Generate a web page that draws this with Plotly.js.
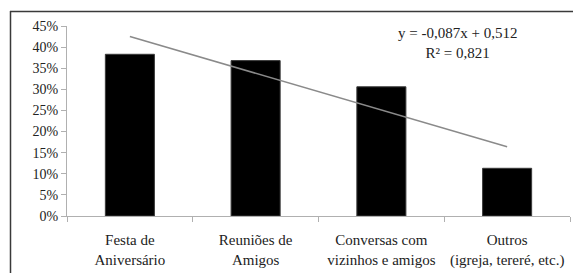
<!DOCTYPE html>
<html>
<head>
<meta charset="utf-8">
<script src="https://cdn.plot.ly/plotly-3.0.1.min.js"></script>
<style>html,body{margin:0;padding:0;background:#fff;}#chart{width:573px;height:273px;}</style>
</head>
<body>
<div id="chart"></div>
<script>
var categories = ["Festa de<br>Aniversário", "Reuniões de<br>Amigos", "Conversas com<br>vizinhos e amigos", "Outros<br>(igreja, tereré, etc.)"];
var values = [0.383, 0.368, 0.306, 0.113];
var trendSlope = -0.087;
var trendIntercept = 0.512;
var equationLines = ["y = -0,087x + 0,512", "R² = 0,821"];

var trendY = categories.map(function (c, i) { return trendSlope * (i + 1) + trendIntercept; });

var W = 573, H = 273;
var margin = {l: 67, r: 3, t: 26, b: 57};
var pw = W - margin.l - margin.r, ph = H - margin.t - margin.b;
function px2x(p) { return (p - margin.l) / pw; }
function px2y(p) { return (H - margin.b - p) / ph; }

var font = "Liberation Serif";

var data = [
  {
    type: "bar",
    x: categories,
    y: values,
    marker: {color: "#000000", line: {color: "#3a3a3a", width: 1}},
    width: 0.39,
    hoverinfo: "none"
  },
  {
    type: "scatter",
    mode: "lines",
    x: categories,
    y: trendY,
    line: {color: "#8a8a8a", width: 1.5},
    hoverinfo: "none"
  }
];

var layout = {
  width: W, height: H,
  margin: margin,
  paper_bgcolor: "#ffffff",
  plot_bgcolor: "#ffffff",
  showlegend: false,
  font: {family: font, color: "#222222", size: 14},
  xaxis: {
    type: "category",
    tickson: "boundaries",
    ticks: "outside",
    ticklen: 5,
    tickcolor: "#b0b0b0",
    showline: true,
    linecolor: "#b0b0b0",
    linewidth: 1,
    showgrid: false,
    zeroline: false,
    ticklabelstandoff: 10,
    tickfont: {family: font, size: 15, color: "#222222"},
    range: [-0.5, 3.5]
  },
  yaxis: {
    range: [0, 0.45],
    dtick: 0.05,
    tickformat: ".0%",
    ticks: "outside",
    ticklen: 5,
    tickcolor: "#b0b0b0",
    showline: true,
    linecolor: "#b0b0b0",
    linewidth: 1,
    showgrid: false,
    zeroline: false,
    tickfont: {family: font, size: 14, color: "#222222"}
  },
  annotations: [{
    xref: "paper", yref: "paper",
    x: px2x(457), y: px2y(43),
    xanchor: "center", yanchor: "middle",
    text: equationLines.join("<br>"),
    showarrow: false,
    align: "center",
    font: {family: font, size: 15, color: "#222222"}
  }],
  shapes: [
    {type: "line", xref: "paper", yref: "paper", x0: px2x(10), x1: px2x(573), y0: px2y(11.5), y1: px2y(11.5), line: {color: "#3a3a3a", width: 1.5}},
    {type: "line", xref: "paper", yref: "paper", x0: px2x(10.5), x1: px2x(10.5), y0: px2y(11), y1: px2y(273), line: {color: "#3a3a3a", width: 1.5}}
  ]
};

Plotly.newPlot("chart", data, layout, {displayModeBar: false, staticPlot: true});
</script>
</body>
</html>
